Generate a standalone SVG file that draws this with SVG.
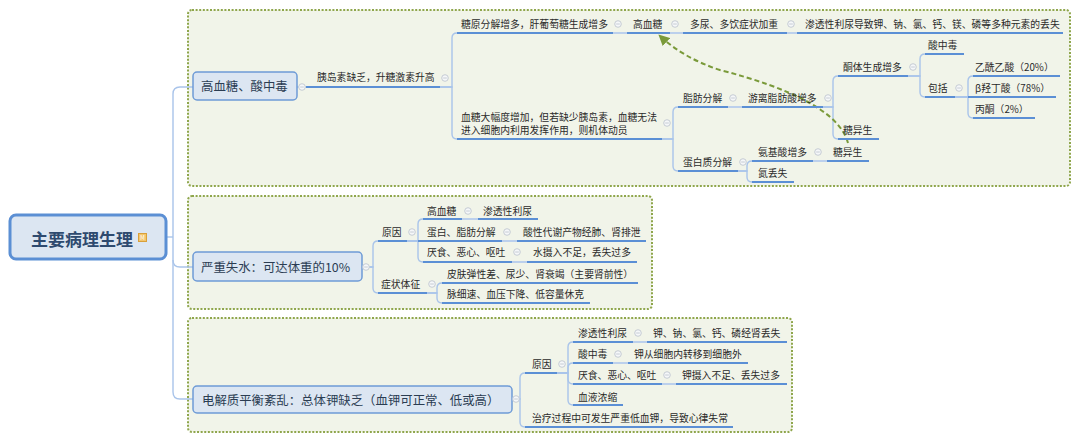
<svg xmlns="http://www.w3.org/2000/svg" xmlns:xlink="http://www.w3.org/1999/xlink" width="1080" height="442" viewBox="0 0 1080 442">
<style>
text{font-family:"Noto Sans CJK SC","Microsoft YaHei",sans-serif;dominant-baseline:central}
.t{font-size:9.8px;fill:#2a2a2a}
.l1{font-size:12.4px;fill:#2b3d52}
.root{font-size:17px;font-weight:bold;fill:#2e4a6f}
.box{fill:#f1f4e9;stroke:#8fa64c;stroke-width:2;stroke-dasharray:2 1.6}
.n1{fill:#dce6f2;stroke:#6e9bd6;stroke-width:1.5}
.u{stroke:#5b8fd5;stroke-width:2;fill:none}
.lt{stroke:#bcd0ec;stroke-width:2;fill:none}
.c{stroke:#a9c4ea;stroke-width:1.4;fill:none}
.cc{fill:#f5f7f9;stroke:#c6ccd4;stroke-width:1}
.cm{stroke:#c6ccd4;stroke-width:1}
</style>
<defs>
<g id="col"><circle class="cc" r="3.3"/><path class="cm" d="M-1.8,0H1.8"/></g>
<marker id="ah" viewBox="0 0 10 10" refX="8" refY="5" markerWidth="5.5" markerHeight="5.5" orient="auto"><path d="M0,0 L10,5 L0,10 z" fill="#7a9a3a"/></marker>
</defs>
<rect width="1080" height="442" fill="#ffffff"/>

<g id="boxes">
<rect class="box" x="188" y="10" width="882" height="176" rx="4"/>
<rect class="box" x="188" y="196" width="464" height="113" rx="4"/>
<rect class="box" x="188" y="318" width="604" height="114" rx="4"/>
</g>

<g id="connectors">
<path class="c" d="M166,237 H173"/>
<path class="c" d="M193,87 H180 Q173,87 173,94 V392 Q173,399 180,399 H193"/>
<path class="c" d="M173,260 Q173,267 180,267 H193"/>
<path class="c" d="M297,87 H306"/>
<path class="c" d="M440,87 H452 V38 Q452,33 457,33"/>
<path class="c" d="M440,87 H452 V134 Q452,139 457,139"/>
<path class="c" d="M662,139 H673 V112 Q673,107 678,107"/>
<path class="c" d="M662,139 H673 V166 Q673,171 678,171"/>
<path class="c" d="M823,107 H833 V81 Q833,76 838,76"/>
<path class="c" d="M823,107 H833 V134 Q833,139 838,139"/>
<path class="c" d="M908,76 H920 V59 Q920,54 925,54"/>
<path class="c" d="M908,76 H920 V92 Q920,97 925,97"/>
<path class="c" d="M955,97 H968 V81 Q968,76 973,76"/>
<path class="c" d="M955,97 H968"/>
<path class="c" d="M955,97 H968 V113 Q968,118 973,118"/>
<path class="c" d="M738,171 H747 V166 Q747,161 752,161"/>
<path class="c" d="M738,171 H747 V177 Q747,182 752,182"/>
<path class="c" d="M362,267 H373 V246 Q373,241 378,241"/>
<path class="c" d="M362,267 H373 V288 Q373,293 378,293"/>
<path class="c" d="M407,241 H418 V224 Q418,219 423,219"/>
<path class="c" d="M407,241 H418"/>
<path class="c" d="M407,241 H418 V257 Q418,262 423,262"/>
<path class="c" d="M427,293 H437 V288 Q437,283 442,283"/>
<path class="c" d="M427,293 H437 V298 Q437,303 442,303"/>
<path class="c" d="M512,399 H520 V378 Q520,373 525,373"/>
<path class="c" d="M512,399 H520 V422 Q520,427 525,427"/>
<path class="c" d="M557,373 H568 V347 Q568,342 573,342"/>
<path class="c" d="M557,373 H568 V368 Q568,363 573,363"/>
<path class="c" d="M557,373 H568 V379 Q568,384 573,384"/>
<path class="c" d="M557,373 H568 V400 Q568,405 573,405"/>
<path class="lt" d="M613,33 H627 M670,33 H683 M787,33 H797"/>
<path class="lt" d="M728,107 H742 M813,161 H827"/>
<path class="lt" d="M462,219 H478 M502,241 H517 M512,262 H527"/>
<path class="lt" d="M633,342 H647 M613,363 H628 M662,384 H676"/>
<path d="M848,143 C840,112 790,88 720,70 C695,62 675,50 660,36" fill="none" stroke="#7a9a3a" stroke-width="2" stroke-dasharray="5 3" marker-end="url(#ah)"/>
</g>

<g id="root">
<rect x="10" y="215" width="156" height="44" rx="6" fill="#dce6f2" stroke="#5b8fd4" stroke-width="3"/>
<text class="root" x="31" y="238">主要病理生理</text>
<rect x="138.5" y="233.5" width="8" height="8" fill="#f3c66e" stroke="#d9a03a" stroke-width="1"/>
<text x="142.5" y="237.8" font-size="5.5" fill="#ffffff" text-anchor="middle">M</text>
</g>

<g id="n-hyper">
<rect class="n1" x="193" y="72" width="104" height="28" rx="4"/>
<text class="l1" x="201" y="86">高血糖、酸中毒</text>
<use href="#col" x="302" y="87"/>
</g>
<g id="n-ins"><text class="t" x="317" y="77">胰岛素缺乏，升糖激素升高</text><path class="u" d="M306,87 H440"/><use href="#col" x="445" y="78"/></g>
<g id="n-gly"><text class="t" x="461" y="24">糖原分解增多，肝葡萄糖生成增多</text><path class="u" d="M457,33 H613"/><use href="#col" x="618" y="24"/></g>
<g id="n-hg"><text class="t" x="633" y="24">高血糖</text><path class="u" d="M627,33 H670"/><use href="#col" x="675" y="24"/></g>
<g id="n-poly"><text class="t" x="690" y="24">多尿、多饮症状加重</text><path class="u" d="M683,33 H787"/><use href="#col" x="791" y="24"/></g>
<g id="n-osm"><text class="t" x="805" y="24">渗透性利尿导致钾、钠、氯、钙、镁、磷等多种元素的丢失</text><path class="u" d="M797,33 H1063"/></g>
<g id="n-mob"><text class="t" x="461" y="117">血糖大幅度增加，但若缺少胰岛素，血糖无法</text><text class="t" x="461" y="130">进入细胞内利用发挥作用，则机体动员</text><path class="u" d="M457,139 H662"/><use href="#col" x="667" y="123"/></g>
<g id="n-fat"><text class="t" x="683" y="98">脂肪分解</text><path class="u" d="M678,107 H728"/><use href="#col" x="733" y="98"/></g>
<g id="n-ffa"><text class="t" x="748" y="98">游离脂肪酸增多</text><path class="u" d="M742,107 H823"/><use href="#col" x="828" y="98"/></g>
<g id="n-ket"><text class="t" x="843" y="67">酮体生成增多</text><path class="u" d="M838,76 H908"/><use href="#col" x="913" y="67"/></g>
<g id="n-acid1"><text class="t" x="928" y="45">酸中毒</text><path class="u" d="M925,54 H964"/></g>
<g id="n-incl"><text class="t" x="928" y="88">包括</text><path class="u" d="M925,97 H955"/><use href="#col" x="959" y="88"/></g>
<g id="n-aca"><text class="t" x="975" y="67">乙酰乙酸（20%）</text><path class="u" d="M973,76 H1060"/></g>
<g id="n-bhb"><text class="t" x="975" y="88">β羟丁酸（78%）</text><path class="u" d="M968,97 H1056"/></g>
<g id="n-ace"><text class="t" x="975" y="109">丙酮（2%）</text><path class="u" d="M973,118 H1035"/></g>
<g id="n-gng1"><text class="t" x="843" y="130">糖异生</text><path class="u" d="M838,139 H879"/></g>
<g id="n-pro"><text class="t" x="683" y="162">蛋白质分解</text><path class="u" d="M678,171 H738"/><use href="#col" x="743" y="162"/></g>
<g id="n-aa"><text class="t" x="758" y="152">氨基酸增多</text><path class="u" d="M752,161 H813"/><use href="#col" x="818" y="152"/></g>
<g id="n-gng2"><text class="t" x="833" y="152">糖异生</text><path class="u" d="M827,161 H869"/></g>
<g id="n-nloss"><text class="t" x="758" y="173">氮丢失</text><path class="u" d="M752,182 H794"/></g>

<g id="n-dehyd">
<rect class="n1" x="193" y="252" width="169" height="29" rx="4"/>
<text class="l1" x="201" y="267">严重失水：可达体重的10%</text>
<use href="#col" x="366" y="267"/>
</g>
<g id="n-cause2"><text class="t" x="382" y="232">原因</text><path class="u" d="M378,241 H407"/><use href="#col" x="412" y="232"/></g>
<g id="n-hg2"><text class="t" x="427" y="211">高血糖</text><path class="u" d="M423,219 H462"/><use href="#col" x="468" y="211"/></g>
<g id="n-osm2"><text class="t" x="483" y="211">渗透性利尿</text><path class="u" d="M478,219 H538"/></g>
<g id="n-pf"><text class="t" x="427" y="232">蛋白、脂肪分解</text><path class="u" d="M418,241 H502"/><use href="#col" x="507" y="232"/></g>
<g id="n-acidex"><text class="t" x="523" y="232">酸性代谢产物经肺、肾排泄</text><path class="u" d="M517,241 H646"/></g>
<g id="n-ano2"><text class="t" x="427" y="252">厌食、恶心、呕吐</text><path class="u" d="M423,262 H512"/><use href="#col" x="517" y="252"/></g>
<g id="n-water"><text class="t" x="533" y="252">水摄入不足，丢失过多</text><path class="u" d="M527,262 H637"/></g>
<g id="n-sym"><text class="t" x="381" y="284">症状体征</text><path class="u" d="M378,293 H427"/><use href="#col" x="432" y="284"/></g>
<g id="n-skin"><text class="t" x="447" y="274">皮肤弹性差、尿少、肾衰竭（主要肾前性）</text><path class="u" d="M442,283 H638"/></g>
<g id="n-pulse"><text class="t" x="447" y="294">脉细速、血压下降、低容量休克</text><path class="u" d="M442,303 H590"/></g>

<g id="n-elec">
<rect class="n1" x="193" y="386" width="319" height="27" rx="4"/>
<text class="l1" x="202" y="400">电解质平衡紊乱：总体钾缺乏（血钾可正常、低或高）</text>
<use href="#col" x="516" y="399"/>
</g>
<g id="n-cause3"><text class="t" x="532" y="364">原因</text><path class="u" d="M525,373 H557"/><use href="#col" x="562" y="364"/></g>
<g id="n-osm3"><text class="t" x="578" y="333">渗透性利尿</text><path class="u" d="M573,342 H633"/><use href="#col" x="638" y="333"/></g>
<g id="n-kloss"><text class="t" x="653" y="333">钾、钠、氯、钙、磷经肾丢失</text><path class="u" d="M647,342 H787"/></g>
<g id="n-acid3"><text class="t" x="578" y="354">酸中毒</text><path class="u" d="M573,363 H613"/><use href="#col" x="618" y="354"/></g>
<g id="n-kshift"><text class="t" x="634" y="354">钾从细胞内转移到细胞外</text><path class="u" d="M628,363 H748"/></g>
<g id="n-ano3"><text class="t" x="578" y="375">厌食、恶心、呕吐</text><path class="u" d="M573,384 H662"/><use href="#col" x="667" y="375"/></g>
<g id="n-kin"><text class="t" x="682" y="375">钾摄入不足、丢失过多</text><path class="u" d="M676,384 H787"/></g>
<g id="n-conc"><text class="t" x="578" y="397">血液浓缩</text><path class="u" d="M573,405 H623"/></g>
<g id="n-treat"><text class="t" x="532" y="418">治疗过程中可发生严重低血钾，导致心律失常</text><path class="u" d="M525,427 H733"/></g>
</svg>
